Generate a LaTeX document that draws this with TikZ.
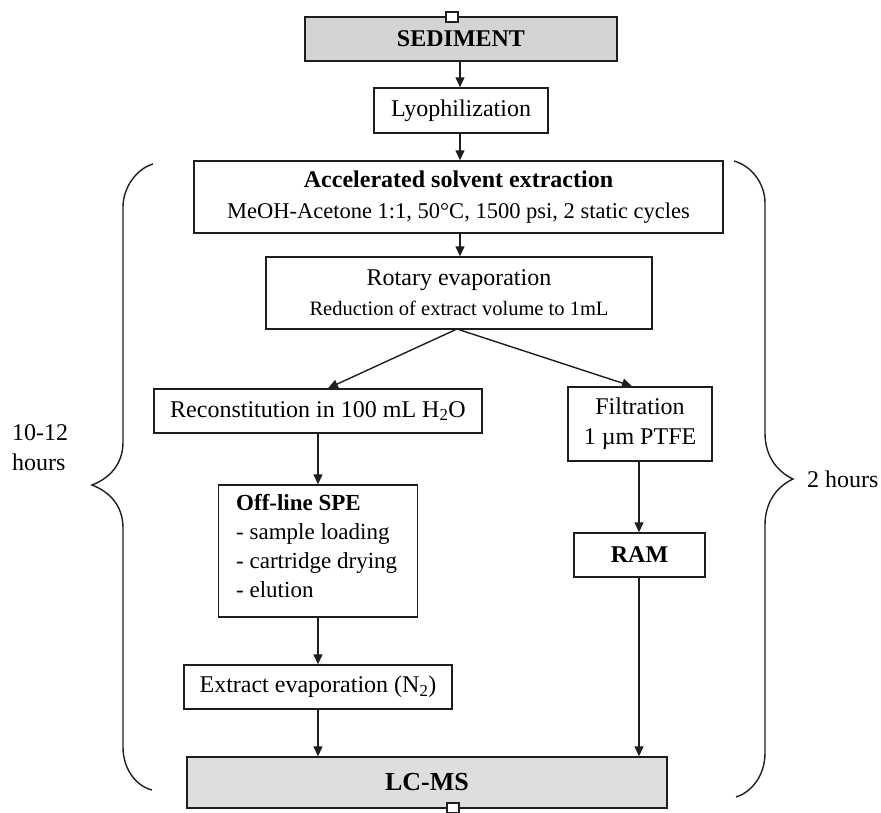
\documentclass[tikz,border=0pt]{standalone}
\usepackage{fontspec}
\setmainfont{Liberation Serif}
\usetikzlibrary{arrows.meta,calc}
\definecolor{boxgray}{RGB}{212,212,212}
\definecolor{lcgray}{RGB}{222,222,222}
\definecolor{ink}{RGB}{30,30,30}
\begin{document}
\begin{tikzpicture}[x=1pt,y=-1pt,
  box/.style={draw=ink, line width=1.5pt, inner sep=0pt, align=center, font=\fontsize{24}{30}\selectfont},
  arr/.style={draw=ink, line width=1.4pt, -{Triangle[length=10pt,width=9pt]}},
  bracepath/.style={draw=ink, line width=1.4pt},
  port/.style={draw=ink, fill=white, line width=1.2pt, minimum width=12pt, minimum height=10pt, inner sep=0pt},
  lbl/.style={inner sep=0pt, font=\fontsize{24}{30}\selectfont}]
\useasboundingbox (0,0) rectangle (881,812);

% boxes
\node[box, fill=boxgray, minimum width=312pt, minimum height=44pt] (sed) at (461,39) {\textbf{SEDIMENT}};
\node[box, minimum width=174pt, minimum height=45pt] (lyo) at (461,110.5) {Lyophilization};
\node[box, minimum width=529pt, minimum height=72pt] (ase) at (458.5,197)
  {\textbf{Accelerated solvent extraction}\\[1pt]{\fontsize{22.5}{26}\selectfont MeOH-Acetone 1:1, 50°C, 1500 psi, 2 static cycles}};
\node[box, minimum width=386pt, minimum height=72pt] (rot) at (459,293)
  {Rotary evaporation\\{\fontsize{20.5}{24}\selectfont Reduction of extract volume to 1mL}};
\node[box, minimum width=328pt, minimum height=44pt] (rec) at (318,411) {Reconstitution in 100 mL H\textsubscript{2}O};
\node[box, minimum width=144pt, minimum height=74pt] (fil) at (640,424) {Filtration\\1 µm PTFE};
\node[box, minimum width=199pt, minimum height=132pt] (spe) at (318,551) {};
\node[lbl, anchor=north west, align=left, font=\fontsize{23}{29}\selectfont] (spetext) at (236,494)
  {\textbf{Off-line SPE}\\- sample loading\\- cartridge drying\\- elution};
\node[box, minimum width=131pt, minimum height=44pt] (ram) at (639.5,555) {\textbf{RAM}};
\node[box, minimum width=268pt, minimum height=44pt] (ext) at (318,687) {Extract evaporation (N\textsubscript{2})};
\node[box, fill=lcgray, minimum width=480pt, minimum height=51pt, font=\fontsize{26}{30}\selectfont] (lcms) at (427,782.5) {\textbf{LC-MS}};

% ports
\node[port] (ptop) at (452,17) {};
\node[port] (pbot) at (453,808) {};

% connectors
\draw[arr] (sed.south -| 460,0) -- (lyo.north -| 460,0);
\draw[arr] (lyo.south -| 460,0) -- (ase.north -| 460,0);
\draw[arr] (ase.south -| 460,0) -- (rot.north -| 460,0);
\coordinate (split) at (457,329);
\draw[arr] (split) -- ([xshift=10pt]rec.north);
\draw[arr] (split) -- ([xshift=-8pt]fil.north);
\draw[arr] (rec.south) -- (rec.south |- spe.north);
\draw[arr] (spe.south) -- (spe.south |- ext.north);
\draw[arr] (ext.south) -- (ext.south |- lcms.north);
\draw[arr] (fil.south -| 639,0) -- (ram.north -| 639,0);
\draw[arr] (ram.south -| 639,0) -- (lcms.north -| 639,0);

% braces
\draw[bracepath] (153,164) .. controls (136,169) and (123,188) .. (123,207) -- (123,442)
  .. controls (123,464) and (110,478) .. (92,485)
  .. controls (110,492) and (123,506) .. (123,528) -- (123,747)
  .. controls (123,769) and (136,786) .. (152,790);
\draw[bracepath] (734,161) .. controls (752,166) and (765,184) .. (765,203) -- (765,433)
  .. controls (765,457) and (778,472) .. (793,479)
  .. controls (778,486) and (765,501) .. (765,525) -- (765,753)
  .. controls (765,775) and (752,792) .. (736,797);

% labels
\node[lbl, anchor=base west, align=left] (lefttime) at (12,470) {10-12\\hours};
\node[lbl, anchor=base west] (righttime) at (807,487) {2 hours};
\end{tikzpicture}
\end{document}
